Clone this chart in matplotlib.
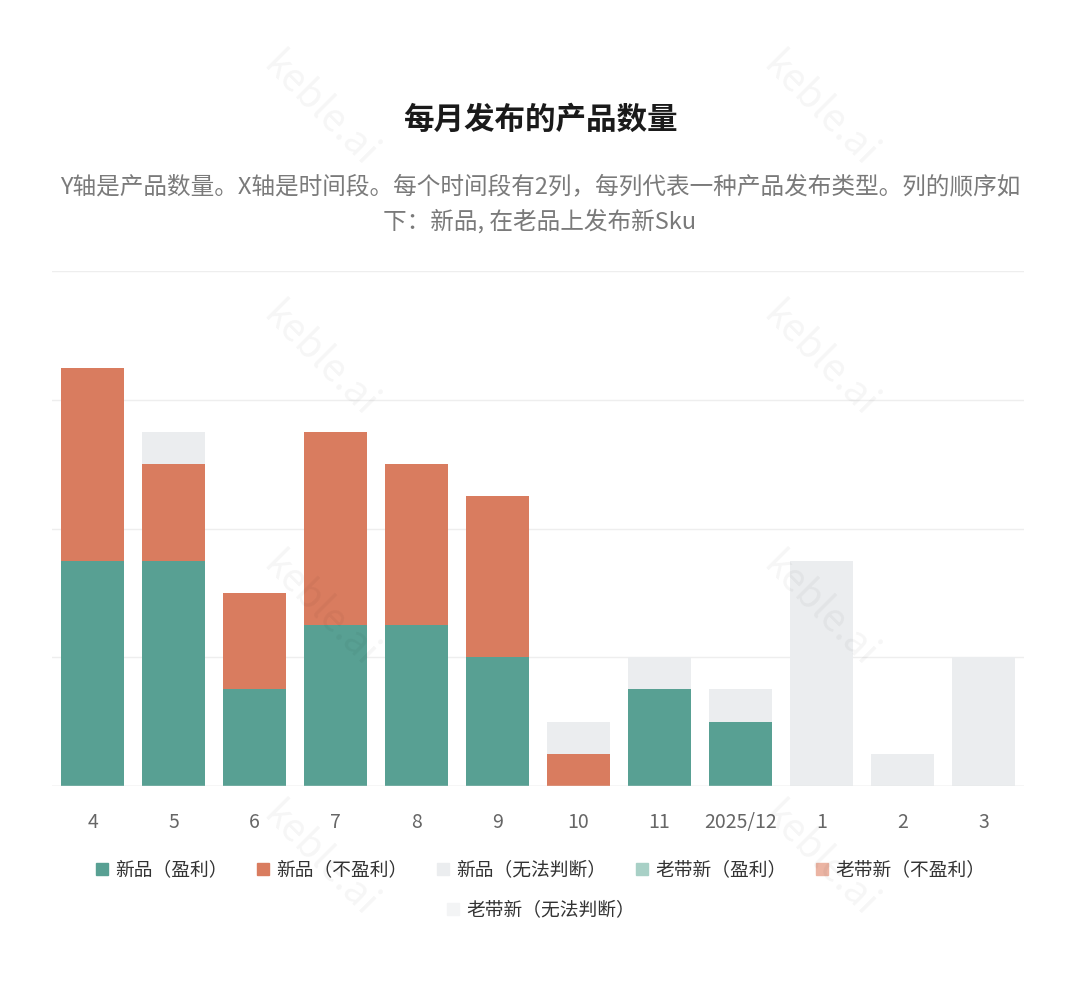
import numpy as np
import matplotlib.pyplot as plt
from matplotlib.lines import Line2D

plt.rcParams['font.family'] = ['Noto Sans CJK SC', 'DejaVu Sans']

# data
months = ['4', '5', '6', '7', '8', '9', '10', '11', '2025/12', '1', '2', '3']
new_profit = [7, 7, 3, 5, 5, 4, 0, 3, 2, 0, 0, 0]
new_loss = [6, 3, 3, 6, 5, 5, 1, 0, 0, 0, 0, 0]
new_unknown = [0, 1, 0, 0, 0, 0, 1, 1, 1, 7, 1, 4]
old_profit = [0] * 12
old_loss = [0] * 12
old_unknown = [0] * 12

series_names = ['新品（盈利）', '新品（不盈利）', '新品（无法判断）',
                '老带新（盈利）', '老带新（不盈利）', '老带新（无法判断）']
colors = ['#58a093', '#d97c5f', '#ebedef', '#a8d0c6', '#ebb4a3', '#f3f4f5']

fig = plt.figure(figsize=(10.8, 9.83), dpi=100)
ax = fig.add_axes([52 / 1080, 1 - 786 / 983, 972 / 1080, (786 - 271) / 983])

x = np.arange(len(months))
bottom = np.zeros(len(months))
for vals, c in zip([new_profit, new_loss, new_unknown, old_profit, old_loss, old_unknown], colors):
    ax.bar(x, vals, bottom=bottom, width=0.78, color=c, zorder=3)
    bottom += np.array(vals)

ax.set_xlim(-0.5, len(months) - 0.5)
ax.set_ylim(0, 16)
ax.set_yticks([0, 4, 8, 12, 16])
ax.set_yticklabels([])
ax.tick_params(axis='y', length=0)
ax.grid(axis='y', color='#eeeeee', linewidth=1, zorder=0)
ax.axhline(0, color='#e3e3e3', linewidth=1, zorder=4)
for s in ax.spines.values():
    s.set_visible(False)
ax.set_xticks(x)
ax.set_xticklabels(months, fontsize=14, color='#666666')
ax.tick_params(axis='x', length=0, pad=19)

# title and subtitle
fig.text(0.5, 1 - 120 / 983, '每月发布的产品数量', ha='center', va='center',
         fontsize=22, fontweight='bold', color='#1a1a1a')
fig.text(0.5, 1 - 188 / 983, 'Y轴是产品数量。X轴是时间段。每个时间段有2列，每列代表一种产品发布类型。列的顺序如',
         ha='center', va='center', fontsize=17, color='#7a7a7a')
fig.text(0.5, 1 - 221 / 983, '下：新品, 在老品上发布新Sku',
         ha='center', va='center', fontsize=17, color='#7a7a7a')

# legend (5 items then 1 centered)
handles = [Line2D([], [], marker='s', linestyle='', markersize=9, color=c) for c in colors]
leg1 = fig.legend(handles[:5], series_names[:5], loc='center', bbox_to_anchor=(0.5, 1 - 870 / 983),
                  ncol=5, frameon=False, fontsize=13.5, handletextpad=0.3, columnspacing=1.5,
                  handlelength=0.8)
leg2 = fig.legend(handles[5:], series_names[5:], loc='center', bbox_to_anchor=(0.5, 1 - 910 / 983),
                  ncol=1, frameon=False, fontsize=13.5, handletextpad=0.3, handlelength=0.8)
for leg in (leg1, leg2):
    for t in leg.get_texts():
        t.set_color('#333333')

# watermark
for wx in [320, 820]:
    for wy in [110, 360, 610, 860]:
        fig.text(wx / 1080, 1 - wy / 983, 'keble.ai', rotation=-45, ha='center', va='center',
                 fontsize=28, color='#000000', alpha=0.04, zorder=10)

fig.savefig('out.png', dpi=100, facecolor='white')
